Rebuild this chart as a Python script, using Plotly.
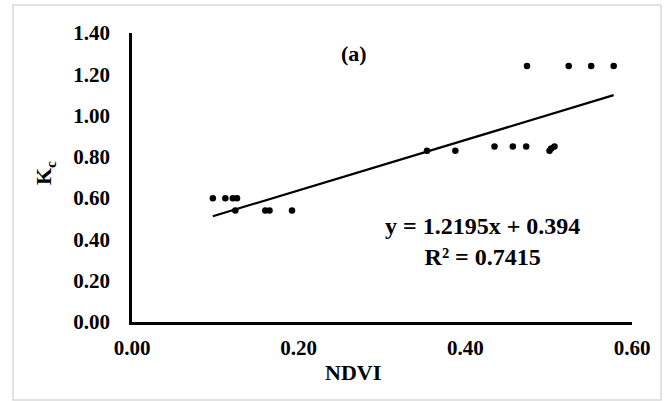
import plotly.graph_objects as go

ndvi = [0.097, 0.112, 0.121, 0.126, 0.124, 0.160, 0.165, 0.192,
        0.354, 0.388, 0.435, 0.457, 0.473, 0.501, 0.503, 0.507,
        0.474, 0.524, 0.551, 0.578]
kc = [0.60, 0.60, 0.60, 0.60, 0.54, 0.54, 0.54, 0.54,
      0.83, 0.83, 0.85, 0.85, 0.85, 0.83, 0.84, 0.85,
      1.24, 1.24, 1.24, 1.24]
slope = 1.2195
intercept = 0.394
r2 = 0.7415
x_ticks = [0.0, 0.2, 0.4, 0.6]
y_ticks = [0.0, 0.2, 0.4, 0.6, 0.8, 1.0, 1.2, 1.4]

font = "Liberation Serif"
xmin, xmax = min(ndvi), max(ndvi)

fig = go.Figure()
fig.add_trace(go.Scatter(x=ndvi, y=kc, mode="markers",
                         marker=dict(color="black", size=6.5), showlegend=False))
fig.add_trace(go.Scatter(x=[xmin, xmax], y=[slope * xmin + intercept, slope * xmax + intercept],
                         mode="lines", line=dict(color="black", width=2.2), showlegend=False))

fig.add_annotation(x=0.266, y=1.30, xref="x", yref="y", text="<b>(a)</b>", showarrow=False,
                   xanchor="center", yanchor="middle",
                   font=dict(family=font, size=22, color="black"))
fig.add_annotation(x=0.42, y=0.392, xref="x", yref="y",
                   text=f"<b>y = {slope}x + {intercept}</b><br><b>R² = {r2}</b>",
                   showarrow=False, align="center", xanchor="center", yanchor="middle",
                   font=dict(family=font, size=24, color="black"))

# axis titles
fig.add_annotation(x=(353 - 132) / 500, y=-(372 - 322) / 289, xref="paper", yref="paper",
                   text="<b>NDVI</b>", showarrow=False, xanchor="center", yanchor="middle",
                   font=dict(family=font, size=22, color="black"))
fig.add_annotation(x=-(132 - 45) / 500, y=(322 - 173) / 289, xref="paper", yref="paper",
                   text="<b>K<sub>c</sub></b>", showarrow=False, textangle=-90,
                   xanchor="center", yanchor="middle",
                   font=dict(family=font, size=22, color="black"))

fig.add_shape(type="rect", xref="paper", yref="paper",
              x0=-0.238, x1=1.058, y0=-0.27, y1=1.097,
              line=dict(color="#d9d9d9", width=1.5), layer="above")

fig.update_layout(
    width=665, height=401,
    margin=dict(l=132, r=33, t=33, b=79, autoexpand=False),
    paper_bgcolor="white", plot_bgcolor="white",
    font=dict(family=font, size=20, color="black"),
    xaxis=dict(range=[0, 0.6], tickvals=x_ticks,
               ticktext=[f"<b>{v:.2f}</b>" for v in x_ticks],
               showgrid=False, zeroline=False, showline=True, linecolor="black",
               linewidth=2.5, ticks="", automargin=False,
               tickfont=dict(family=font, size=21, color="black")),
    yaxis=dict(range=[0, 1.4], tickvals=y_ticks,
               ticktext=[f"<b>{v:.2f}</b>" for v in y_ticks],
               showgrid=False, zeroline=False, showline=True, linecolor="black",
               linewidth=2.5, ticks="", automargin=False,
               tickfont=dict(family=font, size=21, color="black")),
)
fig.update_xaxes(ticklabelstandoff=5)
fig.update_yaxes(ticklabelstandoff=15)

fig.write_html("out.html", config={"displayModeBar": False},
               post_script="document.body.style.margin='0';document.body.style.overflow='hidden';")
